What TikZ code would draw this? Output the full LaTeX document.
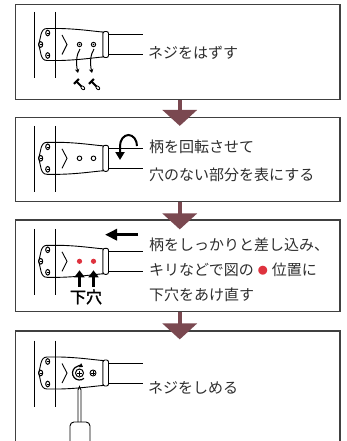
\documentclass[tikz,border=0pt]{standalone}
\usepackage{fontspec}
\setmainfont{Noto Sans CJK JP}
\newfontfamily\jpbold[FakeBold=1.6]{Noto Sans CJK JP}
\usetikzlibrary{arrows.meta}
\definecolor{flowbrown}{RGB}{122,72,80}
\definecolor{dotred}{RGB}{222,50,62}
\definecolor{framegray}{RGB}{64,64,64}
\definecolor{textgray}{RGB}{45,45,45}
\tikzset{
  panel/.style={draw=framegray,line width=1.2pt,minimum width=324.5pt,inner sep=0pt},
  flow/.style={draw=flowbrown,line width=4pt,-{Triangle[width=34pt,length=16pt]}},
  part/.style={line width=0.9pt},
  wall/.style={line width=1pt},
  drop/.style={line width=1pt,-{Stealth[length=4pt,width=4.5pt]}},
  push/.style={line width=3.5pt},
  note/.style={anchor=west,inner sep=0pt,text=textgray,font=\fontsize{15}{15}\selectfont},
  pics/handle/.style={code={
    \draw[wall] (34,-32.5) -- (34,33.5) (55,-32.5) -- (55,33.5);
    \draw[part,fill=white] (47,-16) -- (60,-16) .. controls (80,-15.5) and (95,-13) .. (103,-12.5)
      -- (103,12.5) .. controls (95,13) and (80,15.5) .. (60,16) -- (47,16)
      .. controls (40,16) and (41,6) .. (38.5,0) .. controls (41,-6) and (40,-16) .. (47,-16);
    \draw[wall] (55,-16) -- (55,16);
    \draw[part] (62,-9.5) -- (67,0) -- (62,10);
    \foreach \sx/\sy in {47.7/-11.5,40.7/0,47.7/11} {
      \draw[line width=1pt] (\sx,\sy) ellipse (2 and 2.8);
      \draw[line width=0.6pt] (\sx-1,\sy) -- (\sx+1,\sy);
    }
    \draw[part,fill=white,rounded corners=2pt] (103,-13) rectangle (108.5,13);
    \draw[part] (108.5,-10) -- (143,-10) (108.5,10) -- (143,10);
  }},
  pics/screw/.style={code={
    \draw[line width=2.2pt] (-3.5,-5) -- (3.5,-5);
    \draw[line width=1.8pt] (0,-5) -- (0,2);
    \draw[line width=0.8pt,fill=white] (0,4) ellipse (1.5 and 2.2);
  }}
}
\begin{document}
\begin{tikzpicture}[x=1pt,y=-1pt]
  \useasboundingbox (0,0) rectangle (347,441);
  \clip (0,0) rectangle (347,441);

  % panels
  \node[panel,minimum height=95pt] (p1) at (177.75,52) {};
  \node[panel,minimum height=84.2pt] (p2) at (177.75,159.6) {};
  \node[panel,minimum height=91.7pt] (p3) at (177.75,265.85) {};
  \node[panel,minimum height=129pt] (p4) at (177.75,395.5) {};

  % step 1
  \pic (h1) at (0,44.5) {handle};
  \foreach \hx in {79.5,93.5} {
    \draw[part] (\hx,44.5) circle (2.2);
    \fill (\hx,44.5) circle (0.9);
    \draw[drop] (\hx+0.5,49) .. controls (\hx-3.5,55) and (\hx-3.5,64) .. (\hx-1.5,73);
  }
  \pic[rotate=45] (s1) at (80,85) {screw};
  \pic[rotate=45] (s2) at (95,85) {screw};
  \node[note] (t1) at (148,52.5) {ネジをはずす};

  % step 2
  \pic (h2) at (0,158.3) {handle};
  \foreach \hx in {79.5,93.5}
    \draw[part] (\hx,158.3) circle (2.3);
  \draw[line width=2pt,-{Triangle[width=9pt,length=8pt]}] (137,146)
    arc[start angle=0,end angle=-180,x radius=8.5,y radius=11] -- (120,160);
  \node[note,align=left,font=\fontsize{15}{28}\selectfont] (t2) at (149,160.8)
    {柄を回転させて\\穴のない部分を表にする};

  % step 3
  \pic (h3) at (0,261.3) {handle};
  \foreach \hx in {79.5,93.5} {
    \fill[dotred] (\hx,261.3) circle (2.6);
    \draw[push,-{Triangle[width=10pt,length=7pt]}] (\hx,287) -- (\hx,270.3);
  }
  \draw[push,-{Triangle[width=11pt,length=12pt]}] (138,234.7) -- (105,234.7);
  \node[inner sep=0pt,font=\jpbold\fontsize{16}{16}\selectfont] (l3) at (86,297) {下穴};
  \node[note,align=left,font=\fontsize{15}{25}\selectfont] (t3) at (149,270)
    {柄をしっかりと差し込み、\\キリなどで図の\hspace{4pt}\raisebox{1pt}{\textcolor{dotred}{\fontsize{10}{10}\selectfont ●}}\hspace{4pt}位置に\\下穴をあけ直す};

  % step 4
  \pic (h4) at (0,373) {handle};
  \draw[line width=1pt,fill=white] (79.5,373) circle (4);
  \draw[line width=0.7pt] (77,373) -- (82,373) (79.5,370.5) -- (79.5,375.5);
  \draw[line width=1.2pt,-{Triangle[width=4.5pt,length=3.5pt]}] (79.5,373) ++(50:7)
    arc[start angle=50,end angle=300,radius=7];
  \draw[line width=0.9pt,fill=white] (93,373) circle (3);
  \draw[line width=0.6pt] (91,373) -- (95,373) (93,371) -- (93,375);
  \draw[part] (78,390) -- (79.5,386.5) -- (81,390) -- (81,422) (78,390) -- (78,422);
  \draw[part,rounded corners=4pt] (70,448) -- (70,422) -- (90,422) -- (90,448);
  \node[note] (t4) at (148,388.3) {ネジをしめる};

  % flow arrows
  \draw[flow] ([xshift=2pt]p1.south) -- ([xshift=2pt,yshift=-9pt]p2.north);
  \draw[flow] ([xshift=2pt]p2.south) -- ([xshift=2pt,yshift=-10pt]p3.north);
  \draw[flow] ([xshift=2pt]p3.south) -- ([xshift=2pt,yshift=-9pt]p4.north);
\end{tikzpicture}
\end{document}
